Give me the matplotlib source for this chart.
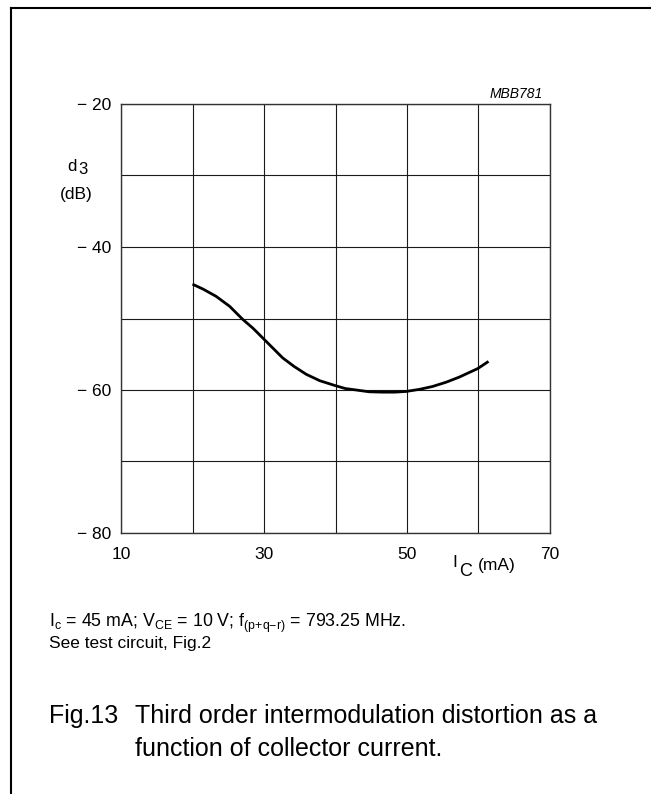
import matplotlib
matplotlib.use("Agg")
import matplotlib.pyplot as plt
from matplotlib.lines import Line2D

plt.rcParams["font.family"] = ["Liberation Sans", "DejaVu Sans"]
plt.rcParams["mathtext.fontset"] = "custom"
plt.rcParams["mathtext.rm"] = "Liberation Sans"

# collector current (mA) vs third order intermodulation distortion (dB)
ic_ma = [20.0, 21.5, 23.3, 25.2, 27.0, 28.5, 30.0, 31.3, 32.6, 34.2, 35.9, 37.8,
         40.0, 41.4, 42.9, 44.7, 46.6, 48.3, 49.9, 51.8, 53.6, 55.5, 57.3, 59.9, 61.4]
d3_db = [-45.2, -45.9, -46.9, -48.3, -50.1, -51.4, -52.9, -54.2, -55.5, -56.7, -57.8, -58.7,
         -59.4, -59.8, -60.0, -60.25, -60.3, -60.3, -60.2, -59.9, -59.5, -58.9, -58.2, -57.0, -56.0]

x_ticks = [10, 20, 30, 40, 50, 60, 70]
x_labels = ["10", "", "30", "", "50", "", "70"]
y_ticks = [-80, -70, -60, -50, -40, -30, -20]
y_labels = ["\u2212 80", "", "\u2212 60", "", "\u2212 40", "", "\u2212 20"]

W, H = 651, 794
fig = plt.figure(figsize=(W / 100, H / 100), dpi=100)


def fx(px):
    return px / W


def fy(py):
    return 1 - py / H


ax = fig.add_axes([fx(121), fy(533), fx(550) - fx(121), fy(104) - fy(533)])
ax.plot(ic_ma, d3_db, color="black", lw=2.0, solid_capstyle="butt")
ax.set_xlim(10, 70)
ax.set_ylim(-80, -20)
ax.set_xticks(x_ticks)
ax.set_xticklabels(x_labels)
ax.set_yticks(y_ticks)
ax.set_yticklabels(y_labels)
ax.grid(True, color="#1a1a1a", lw=0.8)
ax.tick_params(length=0, labelsize=12.5)
ax.tick_params(axis="x", pad=10)
ax.tick_params(axis="y", pad=7)
for s in ax.spines.values():
    s.set_linewidth(1.0)
    s.set_color("#333333")

# axis labels
fig.text(fx(67), fy(171), "d", fontsize=12, va="baseline")
fig.text(fx(78), fy(174), "3", fontsize=12, va="baseline")
fig.text(fx(60), fy(199), "(dB)", fontsize=12.5, va="baseline")
fig.text(fx(452), fy(567), "I", fontsize=12.5, va="baseline")
fig.text(fx(459), fy(576), "C", fontsize=13, va="baseline")
fig.text(fx(478), fy(570), "(mA)", fontsize=12.5, va="baseline")
fig.text(fx(543), fy(98), "MBB781", fontsize=10, style="italic", ha="right", va="baseline")

# notes
note = ("I$_{\\mathregular{c}}$ = 45 mA; V$_{\\mathregular{CE}}$ = 10 V; "
        "f$_{\\mathregular{(p{+}q{-}r)}}$ = 793.25 MHz.")
fig.text(fx(49), fy(627), note, fontsize=12.8, va="baseline")
fig.text(fx(49), fy(648), "See test circuit, Fig.2", fontsize=12.5, va="baseline")

# caption
fig.text(fx(49), fy(723), "Fig.13", fontsize=18, va="baseline")
fig.text(fx(135), fy(723), "Third order intermodulation distortion as a", fontsize=18, va="baseline")
fig.text(fx(135), fy(756), "function of collector current.", fontsize=18, va="baseline")

# page frame
fig.add_artist(Line2D([fx(11), fx(11)], [fy(8), 0], color="black", lw=1.5))
fig.add_artist(Line2D([fx(11), 1], [fy(8), fy(8)], color="black", lw=1.5))

fig.savefig("out.png", dpi=100)
